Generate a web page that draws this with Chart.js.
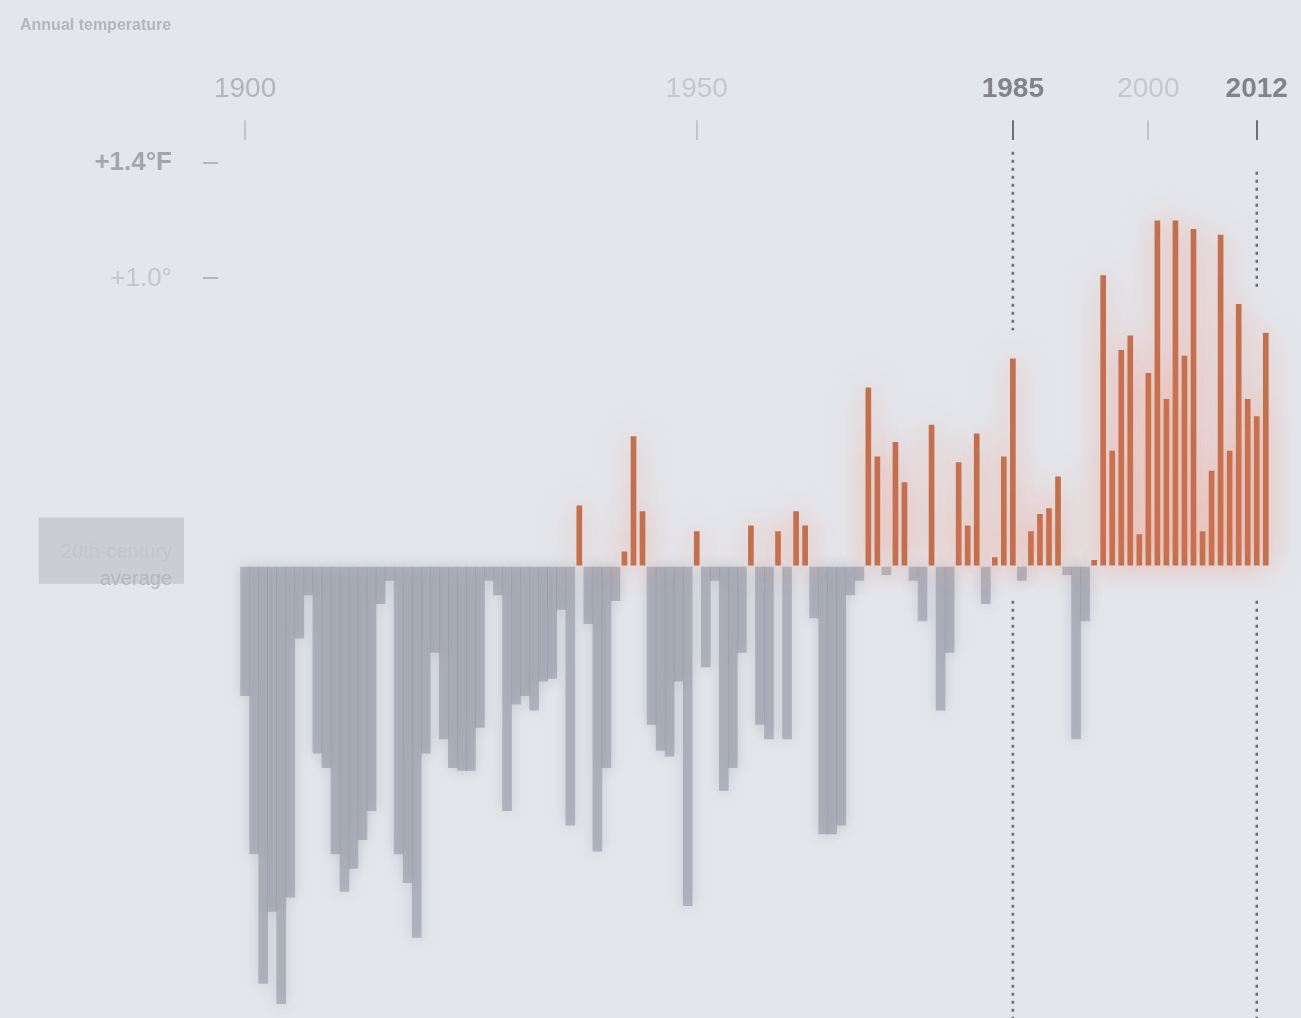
<!DOCTYPE html>
<html>
<head>
<meta charset="utf-8">
<title>Annual temperature</title>
<script src="https://cdn.jsdelivr.net/npm/chart.js@4"></script>
<style>
  body { margin: 0; background: #e3e6eb; }
  #tempChart { display: block; background: #e3e6eb; }
</style>
</head>
<body>
<canvas id="tempChart" width="1301" height="1018"></canvas>
<script>
// Data (°F above / below the 20th-century average)
let years = [
  1900, 1901, 1902, 1903, 1904, 1905, 1906, 1907, 1908, 1909,
  1910, 1911, 1912, 1913, 1914, 1915, 1916, 1917, 1918, 1919,
  1920, 1921, 1922, 1923, 1924, 1925, 1926, 1927, 1928, 1929,
  1930, 1931, 1932, 1933, 1934, 1935, 1936, 1937, 1938, 1939,
  1940, 1941, 1942, 1943, 1944, 1945, 1946, 1947, 1948, 1949,
  1950, 1951, 1952, 1953, 1954, 1955, 1956, 1957, 1958, 1959,
  1960, 1961, 1962, 1963, 1964, 1965, 1966, 1967, 1968, 1969,
  1970, 1971, 1972, 1973, 1974, 1975, 1976, 1977, 1978, 1979,
  1980, 1981, 1982, 1983, 1984, 1985, 1986, 1987, 1988, 1989,
  1990, 1991, 1992, 1993, 1994, 1995, 1996, 1997, 1998, 1999,
  2000, 2001, 2002, 2003, 2004, 2005, 2006, 2007, 2008, 2009,
  2010, 2011, 2012, 2013
];
let anomalies = [
  -0.45, -1.00, -1.45, -1.20, -1.52, -1.15, -0.25, -0.10, -0.65, -0.70,
  -1.00, -1.13, -1.05, -0.95, -0.85, -0.13, -0.05, -1.00, -1.10, -1.29,
  -0.65, -0.30, -0.60, -0.70, -0.71, -0.71, -0.56, -0.05, -0.10, -0.85,
  -0.48, -0.45, -0.50, -0.40, -0.39, -0.15, -0.90, 0.21, -0.20, -0.99,
  -0.70, -0.12, 0.05, 0.45, 0.19, -0.55, -0.64, -0.66, -0.40, -1.18,
  0.12, -0.35, -0.05, -0.78, -0.70, -0.30, 0.14, -0.55, -0.60, 0.12,
  -0.60, 0.19, 0.14, -0.18, -0.93, -0.93, -0.90, -0.10, -0.05, 0.62,
  0.38, -0.03, 0.43, 0.29, -0.05, -0.19, 0.49, -0.50, -0.30, 0.36,
  0.14, 0.46, -0.13, 0.03, 0.38, 0.72, -0.05, 0.12, 0.18, 0.20,
  0.31, -0.03, -0.60, -0.19, 0.02, 1.01, 0.40, 0.75, 0.80, 0.11,
  0.67, 1.20, 0.58, 1.20, 0.73, 1.17, 0.12, 0.33, 1.15, 0.40,
  0.91, 0.58, 0.52, 0.81
];
let yearTicks = [1900, 1950, 1985, 2000, 2012];
let boldYears = [1985, 2012];
let tempTicks = [1.4, 1.0, 0];
let tempLabels = ["+1.4°F", "+1.0°", ["20th-century", "average"]];
let markerYears = [1985, 2012];

let ctx = document.querySelector("#tempChart");

let warmPoints = years.map((y, i) => ({ x: y, y: anomalies[i] > 0 ? anomalies[i] : null }));
let coolPoints = years.map((y, i) => ({ x: y, y: anomalies[i] <= 0 ? anomalies[i] : null }));

// tick value from a scriptable context (may be missing)
function tv(c) {
    return c && c.tick ? c.tick.value : undefined;
}

// soft glow behind the bars, the picture is very blurry
let glowPlugin = {
    id: "glow",
    beforeDatasetDraw(chart, args) {
        let c = chart.ctx;
        c.save();
        if (args.index === 0) {
            c.shadowColor = "rgba(245, 135, 110, 0.7)";
            c.shadowBlur = 30;
        } else {
            c.shadowColor = "rgba(150, 154, 166, 0.7)";
            c.shadowBlur = 14;
        }
    },
    afterDatasetDraw(chart) {
        chart.ctx.restore();
    }
};

// dotted lines at 1985 and 2012
let markerPlugin = {
    id: "markers",
    afterDatasetsDraw(chart) {
        let c = chart.ctx;
        let xs = chart.scales.x;
        let ys = chart.scales.y;
        let tops = { 1985: [1.44, 0.82], 2012: [1.37, 0.97] };
        c.save();
        c.strokeStyle = "#6b6b70";
        c.lineWidth = 2.5;
        c.setLineDash([3, 5]);
        markerYears.forEach((yr) => {
            let x = xs.getPixelForValue(yr);
            c.beginPath();
            c.moveTo(x, ys.getPixelForValue(tops[yr][0]));
            c.lineTo(x, ys.getPixelForValue(tops[yr][1]));
            c.moveTo(x, ys.getPixelForValue(-0.12));
            c.lineTo(x, chart.chartArea.bottom);
            c.stroke();
        });
        c.restore();
    }
};

new Chart(ctx, {
    type: "bar",
    data: {
        datasets: [
            {
                label: "Above average",
                data: warmPoints,
                backgroundColor: "#c2704e",
                barThickness: 5,
                grouped: false,
                order: 1
            },
            {
                label: "Below average",
                data: coolPoints,
                backgroundColor: "rgba(140, 144, 156, 0.55)",
                barThickness: 9,
                grouped: false,
                order: 2
            }
        ]
    },
    options: {
        responsive: false,
        animation: false,
        layout: { padding: { top: 0, right: 0, bottom: 0, left: 20 } },
        plugins: {
            legend: { display: false },
            tooltip: { enabled: false },
            title: {
                display: true,
                text: "Annual temperature",
                align: "start",
                color: "#b3b6bc",
                font: { family: "Liberation Sans", size: 16 },
                padding: { top: 16, bottom: 26 }
            }
        },
        scales: {
            x: {
                type: "linear",
                position: "top",
                offset: false,
                min: 1897.0,
                max: 2016.9,
                afterBuildTicks: (scale) => {
                    scale.ticks = yearTicks.map((v) => ({ value: v }));
                },
                afterFit: (scale) => {
                    scale.height = 79;
                    scale.paddingLeft = 0;
                    scale.paddingRight = 0;
                },
                ticks: {
                    autoSkip: false,
                    maxRotation: 0,
                    padding: 14,
                    callback: (v) => String(v),
                    color: (c) => boldYears.includes(tv(c)) ? "#838388" : (tv(c) === 1900 ? "#b3b5ba" : "#c6c8ce"),
                    font: (c) => ({
                        family: "Liberation Sans",
                        size: 28,
                        weight: boldYears.includes(tv(c)) ? "bold" : "normal"
                    })
                },
                grid: {
                    offset: false,
                    drawOnChartArea: false,
                    drawTicks: true,
                    tickLength: 20,
                    lineWidth: 2,
                    tickColor: (c) => boldYears.includes(tv(c)) ? "#6e6e73" : "#c2c4c9"
                },
                border: { display: false }
            },
            y: {
                min: -1.57,
                max: 1.48,
                afterBuildTicks: (scale) => {
                    scale.ticks = tempTicks.map((v) => ({ value: v }));
                },
                afterFit: (scale) => {
                    scale.width = 198;
                    scale.paddingTop = 0;
                    scale.paddingBottom = 0;
                },
                ticks: {
                    padding: 31,
                    callback: (v) => tempLabels[tempTicks.indexOf(v)],
                    color: (c) => tv(c) === 1.4 ? "#a4a6ab" : (tv(c) === 0 ? "#b4b7bd" : "#c4c6cb"),
                    font: (c) => ({
                        family: "Liberation Sans",
                        size: tv(c) === 0 ? 20 : 26,
                        weight: tv(c) === 1.4 ? "bold" : "normal",
                        lineHeight: 1.35
                    }),
                    showLabelBackdrop: true,
                    backdropColor: (c) => tv(c) === 0 ? "rgba(200, 203, 209, 0.7)" : "rgba(0, 0, 0, 0)",
                    backdropPadding: { top: 8, bottom: 4, left: 22, right: 12 }
                },
                grid: {
                    drawOnChartArea: false,
                    drawTicks: true,
                    tickLength: 15,
                    lineWidth: 2,
                    tickColor: (c) => tv(c) === 0 ? "rgba(0, 0, 0, 0)" : "#b5b7bc"
                },
                border: { display: false }
            }
        }
    },
    plugins: [glowPlugin, markerPlugin]
});
</script>
</body>
</html>
